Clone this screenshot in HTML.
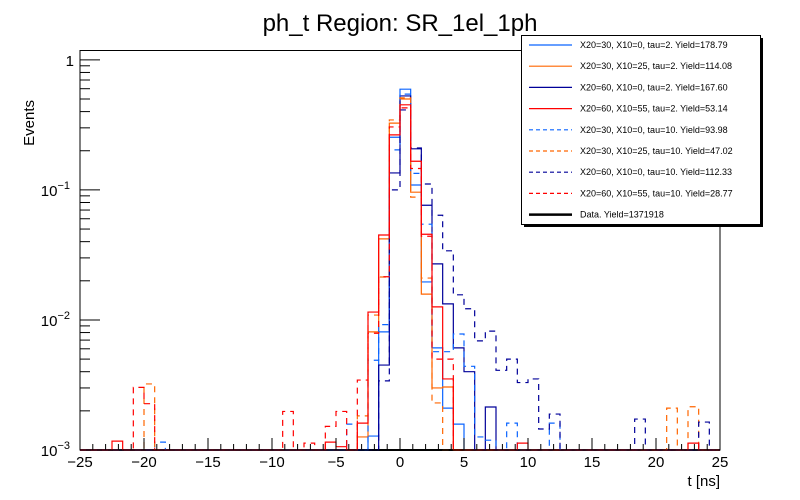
<!DOCTYPE html>
<html><head><meta charset="utf-8"><title>ph_t Region: SR_1el_1ph</title>
<style>
html,body{margin:0;padding:0;background:#fff;}
svg{display:block;font-family:"Liberation Sans",sans-serif;}
</style></head>
<body>
<svg id="chart" width="800" height="500" viewBox="0 0 800 500" xmlns="http://www.w3.org/2000/svg">
<rect x="0" y="0" width="800" height="500" fill="#fff"/>
<text x="400" y="31" font-size="24" text-anchor="middle">ph_t Region: SR_1el_1ph</text>
<g id="hists"></g>
<rect x="80" y="50.5" width="640" height="399.5" fill="none" stroke="#000" stroke-width="1"/>
<g id="axes"></g>
<text x="720" y="486" font-size="15" text-anchor="end">t [ns]</text>
<text transform="translate(34,100) rotate(-90)" font-size="15" text-anchor="end">Events</text>
<g id="legend"></g>
</svg>
<script>
// Binning
const xMin = -25, xMax = 25, nBins = 60;
const yMin = 0.001, yMax = 1.18;
const xTicks = [-25,-20,-15,-10,-5,0,5,10,15,20,25];
const yTickExps = [0,-1,-2,-3];
const seriesNames = [
 "X20=30, X10=0, tau=2. Yield=178.79",
 "X20=30, X10=25, tau=2. Yield=114.08",
 "X20=60, X10=0, tau=2. Yield=167.60",
 "X20=60, X10=55, tau=2. Yield=53.14",
 "X20=30, X10=0, tau=10. Yield=93.98",
 "X20=30, X10=25, tau=10. Yield=47.02",
 "X20=60, X10=0, tau=10. Yield=112.33",
 "X20=60, X10=55, tau=10. Yield=28.77",
 "Data. Yield=1371918"
];
// sparse bin contents: [binIndex, value]
const s0 = [[27,0.00128],[28,0.0081],[29,0.254],[30,0.595],[31,0.109],[32,0.0196],[33,0.0061],[34,0.0021],[35,0.00158]];
const s1 = [[26,0.00126],[27,0.0081],[28,0.042],[29,0.326],[30,0.50],[31,0.096],[32,0.0158],[33,0.0030],[34,0.00305]];
const s2 = [[28,0.0045],[29,0.135],[30,0.528],[31,0.207],[32,0.0762],[33,0.027],[34,0.0133],[35,0.0061],[36,0.0040],[38,0.00214]];
const s3 = [[3,0.00117],[23,0.00115],[24,0.00106],[26,0.00161],[27,0.0115],[28,0.045],[29,0.265],[30,0.451],[31,0.166],[32,0.0456],[33,0.0126],[34,0.00352],[41,0.00113],[57,0.00113]];
const s4 = [[7,0.00115],[25,0.00158],[27,0.0049],[28,0.0092],[29,0.203],[30,0.545],[31,0.134],[32,0.0545],[33,0.0057],[34,0.0057],[35,0.0078],[36,0.0044],[37,0.00126],[38,0.00119],[40,0.00161],[44,0.00161]];
const s5 = [[6,0.00322],[26,0.00183],[27,0.0109],[28,0.0214],[29,0.345],[30,0.51],[31,0.088],[32,0.021],[33,0.0023],[55,0.0021],[57,0.00215]];
const s6 = [[28,0.0034],[29,0.10],[30,0.412],[31,0.21],[32,0.111],[33,0.0638],[34,0.034],[35,0.0156],[36,0.0122],[37,0.0069],[38,0.0082],[39,0.0041],[40,0.0050],[41,0.0033],[42,0.00352],[43,0.00145],[44,0.00189],[52,0.00173],[58,0.00164]];
const s7 = [[5,0.00303],[6,0.00227],[19,0.00198],[21,0.00113],[23,0.00152],[24,0.00198],[26,0.00345],[27,0.0079],[28,0.0215],[29,0.305],[30,0.427],[31,0.146],[32,0.044],[33,0.0050],[34,0.0050]];
const s8 = [];
const seriesData = [s0,s1,s2,s3,s4,s5,s6,s7,s8];
const colors = ["#0a64ff","#ff6600","#000099","#ff0000","#0a64ff","#ff6600","#000099","#ff0000","#000000"];
const dashed = [false,false,false,false,true,true,true,true,false];

const PX0=80, PX1=720, PY0=450, PY1=50.5;
function xs(v){return PX0+(v-xMin)/(xMax-xMin)*(PX1-PX0);}
function ys(v){const c=Math.max(v,yMin);const r=Math.min(c,yMax);return PY0-(Math.log10(r)-Math.log10(yMin))/(Math.log10(yMax)-Math.log10(yMin))*(PY0-PY1);}
const NS="http://www.w3.org/2000/svg";
function mk(tag,attrs,parent){const e=document.createElementNS(NS,tag);for(const k in attrs)e.setAttribute(k,attrs[k]);parent.appendChild(e);return e;}

const hg=document.getElementById('hists');
const bw=(xMax-xMin)/nBins;
const order=[8,0,1,2,4,5,6,3,7];
order.forEach(si=>{
  const vals=new Array(nBins).fill(0);
  seriesData[si].forEach(p=>{vals[p[0]]=p[1];});
  let d="";
  for(let i=0;i<nBins;i++){
    const xa=xs(xMin+i*bw), xb=xs(xMin+(i+1)*bw), y=ys(vals[i]);
    d+=(i===0?"M":"L")+xa.toFixed(2)+","+y.toFixed(2)+" L"+xb.toFixed(2)+","+y.toFixed(2)+" ";
  }
  const p=mk('path',{d:d,fill:"none",stroke:colors[si],"stroke-width":si===8?2:1.2},hg);
  if(dashed[si]) p.setAttribute('stroke-dasharray','6,5');
  
  
});

const ax=document.getElementById('axes');
for(let v=xMin; v<=xMax; v+=1){
  const major = xTicks.indexOf(v)>=0;
  const t=mk('line',{x1:xs(v),x2:xs(v),y1:PY0,y2:PY0-(major?12:6),stroke:"#000","stroke-width":1},ax);
  
  
}
xTicks.forEach(v=>{
  const t=mk('text',{x:xs(v),y:467,"font-size":15,"text-anchor":"middle"},ax);
  t.textContent=(v<0?"\u2212"+(-v):String(v));
  
  
});
for(let e=-3;e<=0;e++){
  for(let m=1;m<=9;m++){
    const v=m*Math.pow(10,e);
    if(v>yMax) break;
    const t=mk('line',{x1:PX0,x2:PX0+(m===1?20:10),y1:ys(v),y2:ys(v),stroke:"#000","stroke-width":1},ax);
    
    
  }
}
yTickExps.forEach(e=>{
  const y=ys(Math.pow(10,e));
  const t=mk('text',{x:e===0?74:70,y:y+6,"font-size":15,"text-anchor":"end"},ax);
  if(e===0){t.textContent="1";}
  else{
    t.textContent="10";
    const s=mk('tspan',{dy:-7,"font-size":11},t);
    s.textContent="\u2212"+(-e);
  }
  
  
});

const lg=document.getElementById('legend');
const sh=mk('rect',{x:524,y:38,width:239,height:189,fill:"#000"},lg);


const box=mk('rect',{x:521.5,y:35.5,width:239,height:189,fill:"#fff",stroke:"#000","stroke-width":1},lg);


seriesNames.forEach((n,i)=>{
  const y=45+i*21.2;
  const l=mk('line',{x1:529,x2:572,y1:y,y2:y,stroke:colors[i],"stroke-width":i===8?2.5:1.2},lg);
  if(dashed[i]) l.setAttribute('stroke-dasharray','4,3');
  
  
  const t=mk('text',{x:580,y:y+3,"font-size":9},lg);
  t.textContent=n;
  
  
});
</script>
</body></html>
